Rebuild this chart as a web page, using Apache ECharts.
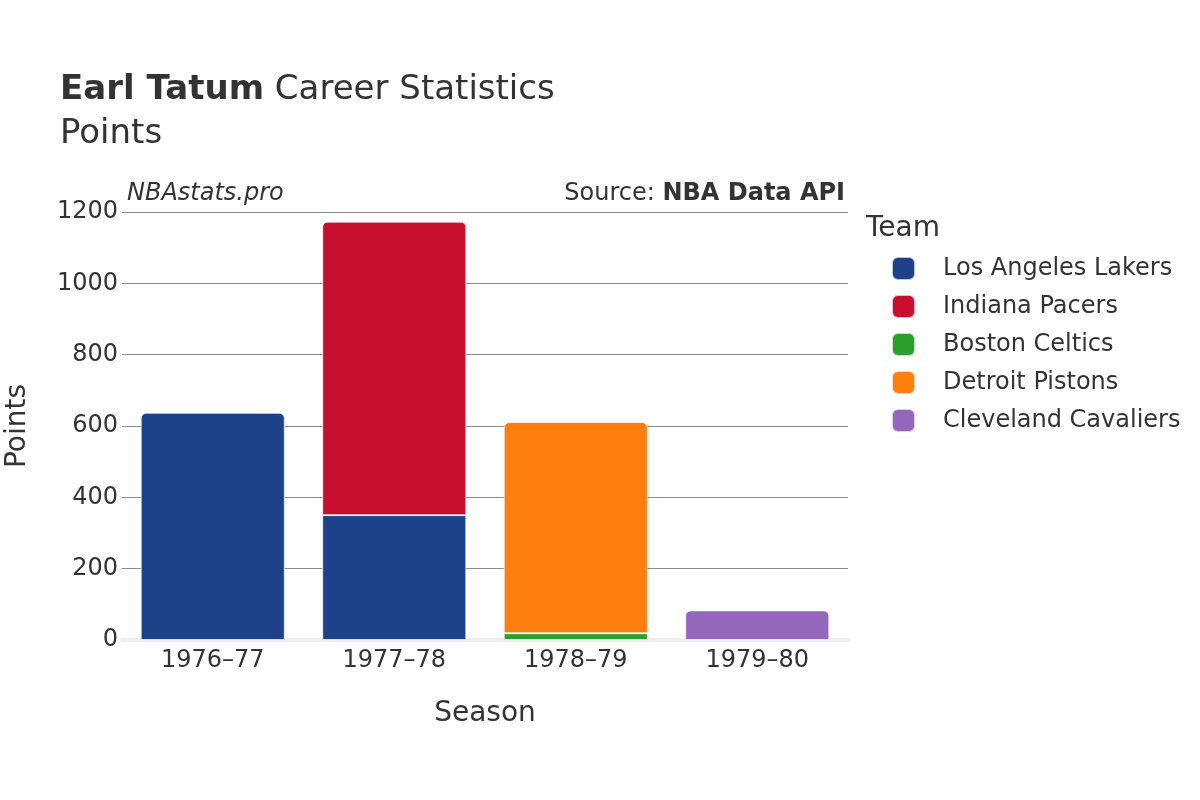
<!DOCTYPE html>
<html>
<head>
<meta charset="utf-8">
<script src="https://cdn.jsdelivr.net/npm/echarts@6/dist/echarts.min.js"></script>
<style>html,body{margin:0;padding:0;background:#fff}#chart{width:1200px;height:800px}</style>
</head>
<body>
<div id="chart"></div>
<script>
const seasons = ['1976–77', '1977–78', '1978–79', '1979–80'];
const teams = ['Los Angeles Lakers', 'Indiana Pacers', 'Boston Celtics', 'Detroit Pistons', 'Cleveland Cavaliers'];
const colors = ['#1d428a', '#c8102e', '#2ca02c', '#ff7f0e', '#9467bd'];
const lakers = [637, 350, 0, 0];
const pacers = [0, 823, 0, 0];
const celtics = [0, 0, 19, 0];
const pistons = [0, 0, 592, 0];
const cavaliers = [0, 0, 0, 83];
const yTicks = [0, 200, 400, 600, 800, 1000, 1200];

const values = [lakers, pacers, celtics, pistons, cavaliers];
const FONT = 'DejaVu Sans';

const topIdx = seasons.map((_, c) => {
  let t = -1;
  values.forEach((v, s) => { if (v[c] > 0) t = s; });
  return t;
});

const series = teams.map((name, s) => ({
  name,
  type: 'bar',
  stack: 'total',
  barCategoryGap: '20.6%',
  data: values[s].map((v, c) => ({
    value: v === 0 ? null : v,
    itemStyle: {
      borderRadius: topIdx[c] === s ? [5, 5, 0, 0] : 0
    }
  })),
  itemStyle: { color: colors[s], borderColor: 'rgba(255,255,255,0.7)', borderWidth: 1 }
}));

const chart = echarts.init(document.getElementById('chart'));
chart.setOption({
  animation: false,
  textStyle: { fontFamily: FONT },
  title: [
    {
      text: '{b|Earl Tatum} Career Statistics',
      left: 60, top: 73, padding: 0,
      textStyle: {
        fontFamily: FONT, fontSize: 34, color: '#333', fontWeight: 'normal',
        rich: { b: { fontFamily: FONT, fontSize: 34, fontWeight: 'bold', color: '#333' } }
      }
    },
    { text: 'Points', left: 60, top: 117, padding: 0, textStyle: { fontFamily: FONT, fontSize: 34, color: '#333', fontWeight: 'normal' } },
    { text: 'NBAstats.pro', left: 127, top: 182, padding: 0, textStyle: { fontFamily: FONT, fontSize: 24, color: '#333', fontStyle: 'italic', fontWeight: 'normal' } },
    {
      text: 'Source: {b|NBA Data API}', right: 355, top: 182, padding: 0,
      textStyle: {
        fontFamily: FONT, fontSize: 24, color: '#333', fontWeight: 'normal',
        rich: { b: { fontFamily: FONT, fontSize: 24, fontWeight: 'bold', color: '#333' } }
      }
    },
    { text: 'Team', left: 866, top: 215, padding: 0, textStyle: { fontFamily: FONT, fontSize: 28, color: '#333', fontWeight: 'normal' } }
  ],
  legend: {
    orient: 'vertical',
    left: 891, top: 256, padding: 0,
    itemWidth: 23, itemHeight: 23,
    itemGap: 13,
    icon: 'roundRect',
    data: teams,
    textStyle: { fontFamily: FONT, fontSize: 24, color: '#333', padding: [0, 0, 0, 23] }
  },
  grid: { left: 122, right: 352, top: 212, bottom: 160, containLabel: false, outerBoundsMode: 'none' },
  xAxis: {
    type: 'category',
    data: seasons,
    name: 'Season',
    nameLocation: 'middle',
    nameGap: 60,
    nameTextStyle: { fontFamily: FONT, fontSize: 28, color: '#333' },
    axisLine: { show: true, lineStyle: { color: '#eeeeee', width: 4 } },
    axisTick: { show: false },
    axisLabel: { fontFamily: FONT, fontSize: 24, color: '#333', margin: 9 }
  },
  yAxis: {
    type: 'value',
    min: 0, max: 1200, interval: 200,
    name: 'Points',
    nameLocation: 'middle',
    nameGap: 90,
    nameTextStyle: { fontFamily: FONT, fontSize: 28, color: '#333' },
    axisLine: { show: false },
    axisTick: { show: false },
    axisLabel: {
      fontFamily: FONT, fontSize: 24, color: '#333', margin: 4,
      formatter: v => yTicks.includes(v) ? String(v) : ''
    },
    splitLine: { lineStyle: { color: '#8a8a8a', width: 1 } }
  },
  series
});
</script>
</body>
</html>
